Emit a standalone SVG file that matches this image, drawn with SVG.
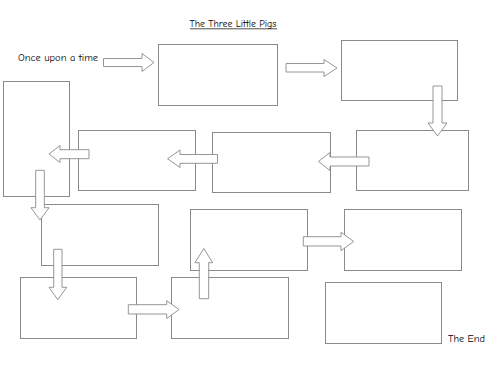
<svg xmlns="http://www.w3.org/2000/svg" width="500" height="386" viewBox="0 0 500 386">
<style>
.box{fill:#fff;stroke:#8a8a8a;stroke-width:1}
.arr{fill:#fff;stroke:#8a8a8a;stroke-width:0.9;stroke-linejoin:miter}
.t{font-family:"Comic Neue","Liberation Sans",sans-serif;fill:#000}
</style>
<rect width="500" height="386" fill="#fff"/>
<g id="title"><text class="t" x="233" y="27" font-size="9" text-anchor="middle" textLength="87" lengthAdjust="spacingAndGlyphs">The Three Little Pigs</text><line x1="190" y1="28.8" x2="277" y2="28.8" stroke="#000" stroke-width="0.7"/></g>
<g id="start"><text class="t" x="18" y="61" font-size="10" textLength="80" lengthAdjust="spacingAndGlyphs">Once upon a time</text></g>
<g id="end"><text class="t" x="448" y="342" font-size="10" textLength="37" lengthAdjust="spacingAndGlyphs">The End</text></g>
<g id="box1"><rect class="box" x="158.5" y="44.5" width="119" height="61"/></g>
<g id="box2"><rect class="box" x="341.5" y="40.5" width="116" height="60"/></g>
<g id="box3"><rect class="box" x="3.5" y="81.5" width="66" height="115"/></g>
<g id="box4"><rect class="box" x="78.5" y="130.5" width="117" height="60"/></g>
<g id="box5"><rect class="box" x="212.5" y="132.5" width="118" height="60"/></g>
<g id="box6"><rect class="box" x="356.5" y="130.5" width="112" height="60"/></g>
<g id="box7"><rect class="box" x="41.5" y="204.5" width="117" height="61"/></g>
<g id="box8"><rect class="box" x="190.5" y="209.5" width="117" height="61"/></g>
<g id="box9"><rect class="box" x="344.5" y="209.5" width="117" height="61"/></g>
<g id="box10"><rect class="box" x="20.5" y="277.5" width="116" height="61"/></g>
<g id="box11"><rect class="box" x="171.5" y="277.5" width="117" height="61"/></g>
<g id="box12"><rect class="box" x="325.5" y="282.5" width="116" height="61"/></g>
<g id="connectors">
<polygon class="arr" points="103.5,58.5 142,58.5 142,53.5 154,62.5 142,71.5 142,66.5 103.5,66.5"/>
<polygon class="arr" points="286,63.5 324,63.5 324,59.5 337,68 324,76.5 324,72 286,72"/>
<polygon class="arr" points="433,86 442,86 442,123 447,123 437.5,136 428,123 433,123"/>
<polygon class="arr" points="369,157 330,157 330,152.5 318.5,161.5 330,170.5 330,166 369,166"/>
<polygon class="arr" points="217.5,154.5 180,154.5 180,150 167.5,158.8 180,167.5 180,163.3 217.5,163.3"/>
<polygon class="arr" points="89,149.7 60,149.7 60,145.5 49,154 60,162.5 60,158.7 89,158.7"/>
<polygon class="arr" points="35.7,170.3 44.3,170.3 44.3,207.7 49,207.7 40,220 31,207.7 35.7,207.7"/>
<polygon class="arr" points="53.7,249.3 62,249.3 62,287.3 66.7,287.3 57.8,299.7 49,287.3 53.7,287.3"/>
<polygon class="arr" points="128.3,304.7 166.7,304.7 166.7,300.7 179,309.5 166.7,318.5 166.7,314 128.3,314"/>
<polygon class="arr" points="199.3,298.7 208.7,298.7 208.7,262.7 212.7,262.7 203.8,248.5 195,262.7 199.3,262.7"/>
<polygon class="arr" points="303.3,236.7 341,236.7 341,232.3 353.7,241.5 341,250.7 341,246 303.3,246"/>
</g>
</svg>
